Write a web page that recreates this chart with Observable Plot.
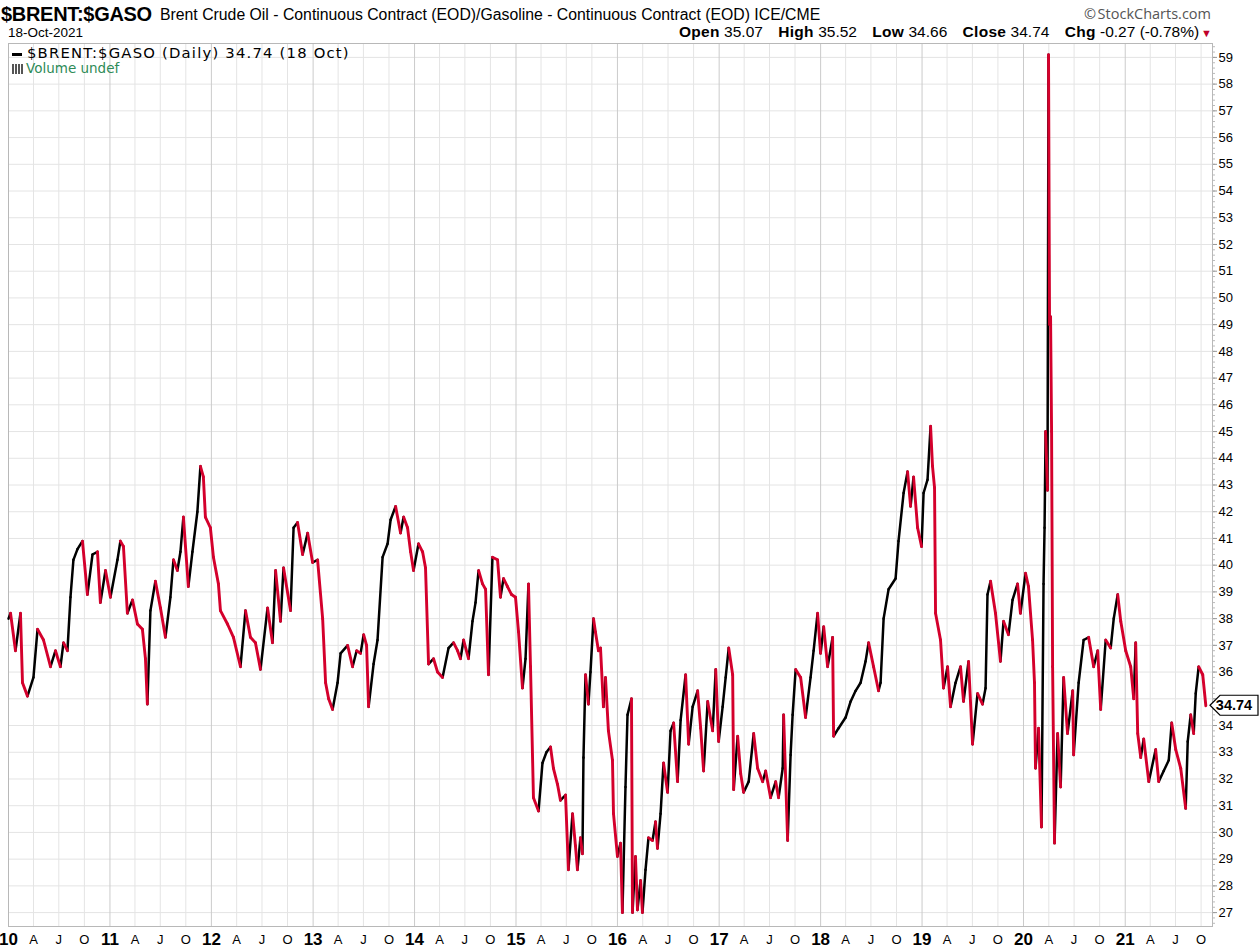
<!DOCTYPE html>
<html><head><meta charset="utf-8">
<script src="https://cdn.jsdelivr.net/npm/d3@7"></script>
<script src="https://cdn.jsdelivr.net/npm/@observablehq/plot@0.6"></script>
<style>
body{margin:0;background:#fff;font-family:"Liberation Sans",Arial,sans-serif;color:#000;}
#wrap{position:relative;width:1260px;height:951px;overflow:hidden;background:#fff;}
.abs{position:absolute;white-space:nowrap;}
#sym{left:1px;top:3px;font-weight:bold;font-size:20px;line-height:22px;letter-spacing:-0.3px;}
#desc{left:160px;top:6px;font-size:15.8px;line-height:18px;}
#sc{right:49px;top:5px;font-family:"Open Sans",sans-serif;font-size:14.5px;line-height:18px;color:#555;}
#date{left:8px;top:24px;font-size:13.5px;line-height:17px;}
#ohlc{right:48px;top:23px;font-size:15.5px;line-height:18px;}
#ohlc b{font-weight:bold;margin-left:11px;letter-spacing:0.3px;}
#ohlc b:first-child{margin-left:0;}
#chart{position:absolute;left:0;top:40px;}
#leg1{left:12px;top:44px;font-family:"DejaVu Sans",sans-serif;font-size:14.8px;line-height:17px;letter-spacing:1.2px;}
#leg2{left:12px;top:61px;font-family:"DejaVu Sans",sans-serif;font-size:13.5px;line-height:15px;color:#2e8b57;}
</style></head><body>
<div id="wrap">
  <div class="abs" id="sym">$BRENT:$GASO</div>
  <div class="abs" id="desc">Brent Crude Oil - Continuous Contract (EOD)/Gasoline - Continuous Contract (EOD) ICE/CME</div>
  <div class="abs" id="sc">©&#8202;StockCharts.com</div>
  <div class="abs" id="date">18-Oct-2021</div>
  <div class="abs" id="ohlc"><b>Open</b> 35.07 <b>High</b> 35.52 <b>Low</b> 34.66 <b>Close</b> 34.74 <b>Chg</b> -0.27 (-0.78%)<span style="color:#c0002a;font-size:11px;margin-left:2px">▼</span></div>
  <div id="chart"></div>
  <div class="abs" id="leg1"><span style="display:inline-block;width:10px;height:3px;background:#000;vertical-align:middle;margin-right:5px"></span>$BRENT:$GASO (Daily) 34.74 (18 Oct)</div>
  <div class="abs" id="leg2"><span style="display:inline-block;width:12px;height:10px;vertical-align:-1px;margin-right:2px;background:linear-gradient(to right,#555 0 2px,transparent 2px 3px,#555 3px 5px,transparent 5px 6px,#555 6px 8px,transparent 8px 9px,#555 9px 11px,transparent 11px)"></span>Volume undef</div>
</div>
<script>
// Ratio $BRENT:$GASO, [fraction of year, value]
const y2010 = [[0.000,38.0],[0.020,38.2],[0.069,36.8],[0.118,38.2],[0.138,35.6],[0.187,35.1],[0.246,35.8],[0.286,37.6],[0.345,37.2],[0.414,36.2],[0.463,36.8],[0.512,36.2],[0.542,37.1],[0.581,36.8],[0.611,38.8],[0.640,40.2],[0.680,40.6],[0.729,40.9],[0.778,38.9],[0.828,40.4],[0.877,40.5],[0.906,38.6],[0.956,39.8]];
const y2011 = [[0.005,38.8],[0.074,40.2],[0.103,40.9],[0.133,40.7],[0.172,38.2],[0.222,38.7],[0.271,37.8],[0.320,37.6],[0.350,36.5],[0.369,34.8],[0.399,38.3],[0.448,39.4],[0.498,38.4],[0.547,37.3],[0.596,38.8],[0.626,40.2],[0.665,39.8],[0.695,40.5],[0.724,41.8],[0.773,39.2],[0.813,40.5],[0.862,42.0],[0.892,43.7],[0.921,43.3],[0.941,41.8],[0.990,41.4]];
const y2012 = [[0.020,40.3],[0.069,39.3],[0.089,38.3],[0.158,37.8],[0.217,37.3],[0.286,36.2],[0.335,38.3],[0.384,37.3],[0.433,37.1],[0.483,36.1],[0.552,38.4],[0.601,37.1],[0.631,39.8],[0.680,37.9],[0.709,39.9],[0.778,38.3],[0.808,41.4],[0.847,41.6],[0.897,40.4],[0.946,41.2],[0.995,40.1]];
const y2013 = [[0.044,40.2],[0.094,38.0],[0.123,35.6],[0.153,35.0],[0.192,34.6],[0.241,35.6],[0.271,36.7],[0.340,37.0],[0.389,36.2],[0.429,36.8],[0.468,36.7],[0.498,37.4],[0.527,37.0],[0.547,34.7],[0.596,36.3],[0.635,37.2],[0.685,40.3],[0.734,40.8],[0.764,41.7],[0.813,42.2],[0.862,41.2],[0.892,41.8],[0.931,41.4],[0.961,40.5],[0.990,39.8]];
const y2014 = [[0.039,40.8],[0.079,40.5],[0.108,39.9],[0.138,36.3],[0.187,36.5],[0.227,36.0],[0.276,35.8],[0.335,36.9],[0.384,37.1],[0.424,36.8],[0.453,36.5],[0.483,37.2],[0.532,36.5],[0.571,37.9],[0.601,38.6],[0.631,39.8],[0.670,39.3],[0.700,39.1],[0.729,35.9],[0.768,40.3],[0.818,40.2],[0.847,38.8],[0.877,39.5],[0.916,39.2],[0.956,38.9],[0.995,38.8]];
const y2015 = [[0.025,37.5],[0.064,35.4],[0.094,36.5],[0.123,39.3],[0.143,36.2],[0.172,31.3],[0.222,30.8],[0.261,32.6],[0.300,33.0],[0.340,33.2],[0.369,32.4],[0.409,31.8],[0.438,31.2],[0.488,31.4],[0.517,28.6],[0.557,30.7],[0.586,29.5],[0.606,28.6],[0.635,29.8],[0.655,29.2],[0.665,32.8],[0.685,35.9],[0.714,34.8],[0.734,36.0],[0.764,38.0],[0.783,37.5],[0.813,36.8],[0.833,36.9],[0.862,34.7],[0.882,35.8],[0.911,33.8],[0.951,32.7],[0.961,30.7]];
const y2016 = [[0.000,29.1],[0.030,29.6],[0.049,27.0],[0.079,31.7],[0.099,34.4],[0.138,35.0],[0.148,27.0],[0.177,29.1],[0.197,27.1],[0.227,28.2],[0.246,27.0],[0.276,28.6],[0.305,29.8],[0.345,29.7],[0.374,30.4],[0.394,29.4],[0.424,30.7],[0.453,32.6],[0.493,31.5],[0.522,33.8],[0.552,34.1],[0.591,31.9],[0.621,34.2],[0.670,35.9],[0.700,33.3],[0.739,34.7],[0.788,35.3],[0.818,33.9],[0.847,32.3],[0.887,34.9],[0.936,33.8],[0.966,36.1],[0.995,33.4]];
const y2017 = [[0.034,34.7],[0.064,35.8],[0.094,36.9],[0.133,35.9],[0.143,31.6],[0.182,33.6],[0.212,32.2],[0.241,31.5],[0.291,31.9],[0.340,33.7],[0.379,32.4],[0.429,31.9],[0.458,32.3],[0.507,31.3],[0.557,31.9],[0.586,31.3],[0.626,32.4],[0.635,34.4],[0.675,29.7],[0.704,32.9],[0.724,34.4],[0.754,36.1],[0.803,35.8],[0.852,34.3],[0.901,35.8],[0.931,36.8],[0.970,38.2]];
const y2018 = [[0.000,36.7],[0.030,37.7],[0.069,36.2],[0.118,37.3],[0.128,33.6],[0.177,33.9],[0.246,34.3],[0.296,34.9],[0.345,35.3],[0.394,35.6],[0.443,36.4],[0.473,37.1],[0.522,36.2],[0.571,35.3],[0.591,35.6],[0.621,38.0],[0.670,39.1],[0.739,39.5],[0.768,40.9],[0.818,42.7],[0.857,43.5],[0.887,42.2],[0.916,43.3],[0.956,41.4],[0.995,40.7]];
const y2019 = [[0.015,42.7],[0.054,43.2],[0.084,45.2],[0.103,43.7],[0.123,42.9],[0.133,38.2],[0.182,37.2],[0.212,35.4],[0.251,36.2],[0.281,34.7],[0.330,35.6],[0.379,36.2],[0.409,34.9],[0.458,36.4],[0.498,33.3],[0.547,35.2],[0.596,34.8],[0.626,35.4],[0.645,38.9],[0.675,39.4],[0.724,38.2],[0.773,36.4],[0.803,37.9],[0.852,37.4],[0.892,38.7],[0.941,39.3],[0.970,38.2]];
const y2020 = [[0.020,39.7],[0.049,39.2],[0.089,37.2],[0.108,35.6],[0.118,32.4],[0.148,33.9],[0.177,30.2],[0.197,39.3],[0.207,41.4],[0.217,45.0],[0.236,42.8],[0.246,59.1],[0.256,49.0],[0.266,49.3],[0.276,45.0],[0.286,36.2],[0.305,29.6],[0.335,33.7],[0.365,31.7],[0.394,35.8],[0.433,33.7],[0.483,35.3],[0.493,32.9],[0.542,35.6],[0.591,37.2],[0.640,37.3],[0.690,36.2],[0.729,36.8],[0.759,34.6],[0.808,37.2],[0.857,36.9],[0.887,38.0],[0.926,38.9],[0.956,37.9]];
const y2021 = [[0.005,36.8],[0.054,36.2],[0.084,35.0],[0.103,37.1],[0.123,33.7],[0.153,32.8],[0.182,33.5],[0.232,31.9],[0.300,33.1],[0.330,31.9],[0.379,32.3],[0.429,32.7],[0.458,34.1],[0.498,33.1],[0.547,32.4],[0.596,30.9],[0.616,33.4],[0.645,34.4],[0.675,33.7],[0.695,35.2],[0.724,36.2],[0.764,35.9]];
const lastDate = "2021-10-18";
const lastClose = 34.74;
const yTickValues = d3.range(27, 60);
const quarterLetters = {3: "A", 6: "J", 9: "O"};

const yearly = [[2010,y2010],[2011,y2011],[2012,y2012],[2013,y2013],[2014,y2014],[2015,y2015],[2016,y2016],[2017,y2017],[2018,y2018],[2019,y2019],[2020,y2020],[2021,y2021]];
const series = [];
for (const [yr, arr] of yearly) {
  const s = Date.UTC(yr, 0, 1), e = Date.UTC(yr + 1, 0, 1);
  for (const [f, v] of arr) series.push({date: new Date(s + f * (e - s)), value: v});
}
series.push({date: new Date(lastDate), value: lastClose});
const segs = d3.pairs(series).map(([a, b]) => ({x1: a.date, y1: a.value, x2: b.date, y2: b.value, up: b.value >= a.value}));

const x0 = new Date(Date.UTC(2010, 0, 1)), x1 = new Date(Date.UTC(2021, 10, 11));
const quarters = d3.utcMonth.every(3).range(x0, x1).filter(d => d.getUTCMonth() !== 0);
const years = d3.utcYear.range(x0, x1);
const minorY = d3.range(26.6, 59.5, 0.2);
// tick labels hidden behind the last-price marker
const coveredTicks = yTickValues.filter(v => Math.abs(v - lastClose) < 0.4);

const chart = Plot.plot({
  width: 1260, height: 911,
  marginTop: 3, marginLeft: 8, marginRight: 48, marginBottom: 25,
  x: {type: "utc", domain: [x0, x1]},
  y: {domain: [26.48, 59.52]},
  style: {fontFamily: "Liberation Sans, Arial, sans-serif", fontSize: "13px", color: "#000", background: "#fff", overflow: "visible"},
  marks: [
    Plot.ruleY(yTickValues, {stroke: "#e4e4e4", strokeWidth: 1, strokeOpacity: 1}),
    Plot.ruleX(quarters, {stroke: "#e4e4e4", strokeOpacity: 1}),
    Plot.ruleX(years, {stroke: "#cbcbcb", strokeOpacity: 1}),
    Plot.frame({stroke: "#b8b8b8"}),
    Plot.link(segs.filter(d => d.up), {x1: "x1", y1: "y1", x2: "x2", y2: "y2", stroke: "#000", strokeWidth: 2.5, strokeLinecap: "round"}),
    Plot.link(segs.filter(d => !d.up), {x1: "x1", y1: "y1", x2: "x2", y2: "y2", stroke: "#d4002c", strokeWidth: 2.9, strokeLinecap: "round"}),
    Plot.axisY(minorY, {anchor: "right", tickSize: 2, tickFormat: () => "", stroke: "#bbb", label: null}),
    Plot.axisY(yTickValues, {anchor: "right", tickSize: 4, tickPadding: 2, tickFormat: d => coveredTicks.includes(d) ? "" : String(d), stroke: "#999", fontSize: 13, label: null}),
    Plot.axisX(quarters, {anchor: "bottom", tickSize: 0, tickPadding: 8, tickFormat: d => quarterLetters[d.getUTCMonth()], fontSize: 13, label: null}),
    Plot.axisX(years, {anchor: "bottom", tickSize: 0, tickPadding: 6, tickFormat: d3.utcFormat("%y"), fontSize: 17, fontWeight: "bold", label: null})
  ]
});
document.getElementById("chart").appendChild(chart);

// Last price marker on right axis
const svg = d3.select(chart);
const yy = chart.scale("y").apply(lastClose);
const xr = 1260 - 48;
const g = svg.append("g");
g.append("path")
  .attr("d", `M${xr - 2},${yy} L${xr + 8},${yy - 10} L${1258},${yy - 10} L${1258},${yy + 10} L${xr + 8},${yy + 10} Z`)
  .attr("fill", "#fff").attr("stroke", "#000").attr("stroke-width", 1.2);
g.append("text").attr("x", 1234).attr("y", yy).attr("dy", "0.35em").attr("text-anchor", "middle")
  .attr("font-weight", "bold").attr("font-size", 14.5).attr("font-family", "Liberation Sans, Arial, sans-serif")
  .text(lastClose.toFixed(2));
</script>
</body></html>
